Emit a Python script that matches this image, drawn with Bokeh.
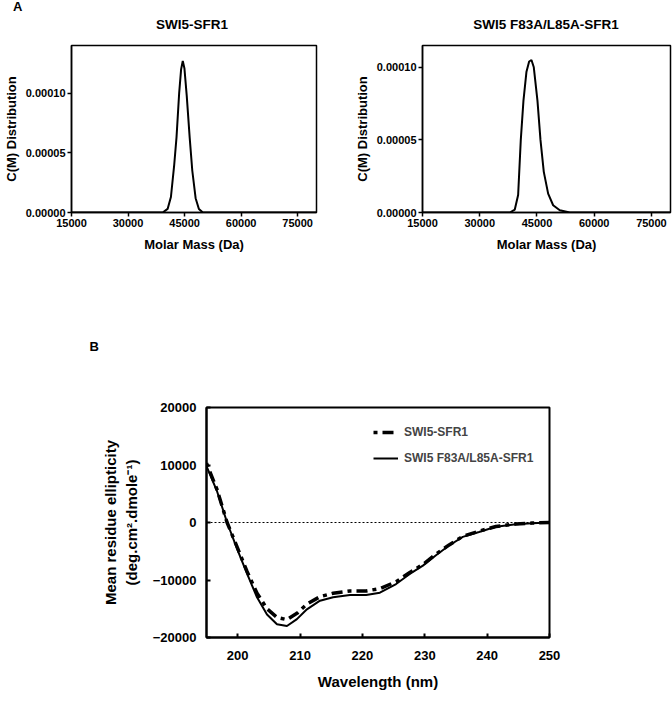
from bokeh.plotting import figure
from bokeh.models import FixedTicker, NumeralTickFormatter, Span, Legend, LegendItem, Div
from bokeh.layouts import column, row
from bokeh.embed import file_html
from bokeh.resources import INLINE

FONT = "Liberation Sans"

# ---------------- Data ----------------
# Panel A: c(M) distributions
mass_wt = [15000, 39190, 40500, 41375, 42250, 42860, 43560, 44080, 44520, 44955,
           45570, 46350, 47050, 47930, 48800, 49850, 80000]
cm_wt = [0, 0, 0.000003, 0.000013, 0.000040, 0.000063, 0.000100, 0.000120, 0.000127,
         0.000121, 0.000098, 0.000063, 0.000035, 0.000012, 0.000003, 0, 0]

mass_mut = [15000, 37880, 39190, 40065, 40760, 41460, 42250, 42950, 43560, 44170,
            45130, 45920, 46790, 47930, 49240, 50980, 53600, 80000]
cm_mut = [0, 0, 0.000002, 0.000012, 0.000050, 0.000077, 0.000097, 0.000104, 0.000105,
          0.000100, 0.000077, 0.000050, 0.000028, 0.000013, 0.000005, 0.0000015, 0, 0]

mass_ticks = [15000, 30000, 45000, 60000, 75000]
cm_ticks = [0, 0.00005, 0.0001]

# Panel B: CD spectra
wavelength = [195, 196.7, 198.3, 200, 201.5, 203.1, 204.7, 206.3, 207.9, 209.5, 211.1,
              213.2, 215.3, 218, 220.6, 222.8, 225.4, 227.6, 229.7, 231.8, 233.9, 236.1,
              238.7, 241.4, 244.6, 247.2, 250]
mre_wt = [10300, 5700, 0, -4500, -8500, -12300, -15000, -16500, -16900, -15800, -14200,
          -12900, -12300, -11900, -11900, -11500, -10300, -8700, -7300, -5500, -3900, -2400,
          -1500, -700, -250, -100, 0]
mre_mut = [9800, 5400, 0, -4850, -8900, -13000, -16000, -17700, -18000, -16800, -15100,
           -13600, -13000, -12600, -12600, -12200, -10700, -8950, -7500, -5700, -4000, -2500,
           -1650, -750, -300, -150, 0]

wl_ticks = [200, 210, 220, 230, 240, 250]
mre_ticks = [-20000, -10000, 0, 10000, 20000]

series_names = ["SWI5-SFR1", "SWI5 F83A/L85A-SFR1"]
panel_letters = ["A", "B"]


def header_div(letter, title, frame_left, frame_width):
    letter_html = ""
    if letter:
        letter_html = (f'<span style="position:absolute;left:13px;top:0px;'
                       f'line-height:14px;font-size:13px;">{letter}</span>')
    html = (f'<div style="position:relative;width:336px;height:37px;'
            f'font-family:\'{FONT}\';font-weight:bold;color:black;">'
            f'{letter_html}'
            f'<span style="position:absolute;left:{frame_left}px;width:{frame_width}px;'
            f'top:17px;line-height:16px;font-size:13.5px;text-align:center;'
            f'white-space:nowrap;">{title}</span></div>')
    return Div(text=html, width=336, height=37, margin=0)


def style_a(p):
    p.grid.visible = False
    p.outline_line_color = "black"
    p.outline_line_width = 1.5
    for ax in (p.xaxis[0], p.yaxis[0]):
        ax.axis_line_width = 1.5
        ax.major_tick_line_width = 1.5
        ax.major_tick_in = 0
        ax.major_tick_out = 4
        ax.minor_tick_line_color = None
        ax.major_label_text_font = FONT
        ax.major_label_text_font_style = "bold"
        ax.major_label_text_font_size = "11px"
        ax.major_label_text_color = "black"
        ax.axis_label_text_font = FONT
        ax.axis_label_text_font_style = "bold"
        ax.axis_label_text_font_size = "13px"
        ax.axis_label_text_color = "black"
        ax.major_label_standoff = 2
    p.xaxis.axis_label = "Molar Mass (Da)"
    p.yaxis.axis_label = "C(M) Distribution"
    p.xaxis.axis_label_standoff = 7
    p.yaxis.axis_label_standoff = 4
    p.xaxis.ticker = FixedTicker(ticks=mass_ticks)
    p.yaxis.ticker = FixedTicker(ticks=cm_ticks)
    p.yaxis.formatter = NumeralTickFormatter(format="0.00000")


pa1 = figure(width=336, height=225, x_range=(15000, 80000), y_range=(0, 0.00014),
             output_backend="svg", toolbar_location=None,
             min_border_left=68, min_border_right=20, min_border_top=8, min_border_bottom=50)
style_a(pa1)
pa1.line(mass_wt, cm_wt, line_color="black", line_width=2)

pa2 = figure(width=336, height=225, x_range=(15000, 80000), y_range=(0, 0.000115),
             output_backend="svg", toolbar_location=None,
             min_border_left=86, min_border_right=2, min_border_top=8, min_border_bottom=50)
style_a(pa2)
pa2.line(mass_mut, cm_mut, line_color="black", line_width=2)

head1 = header_div(panel_letters[0], series_names[0], 68, 248)
head2 = header_div("", series_names[1], 86, 248)

# ---------------- Panel B ----------------
pb = figure(width=600, height=440, x_range=(195, 250), y_range=(-20000, 20000),
            output_backend="svg", toolbar_location=None,
            min_border_left=206, min_border_right=51, min_border_top=145, min_border_bottom=65)
pb.grid.visible = False
pb.outline_line_color = "black"
pb.outline_line_width = 2
for ax in (pb.xaxis[0], pb.yaxis[0]):
    ax.axis_line_width = 2
    ax.major_tick_line_width = 2
    ax.major_tick_in = 4
    ax.major_tick_out = 0
    ax.minor_tick_line_color = None
    ax.major_label_text_font = FONT
    ax.major_label_text_font_style = "bold"
    ax.major_label_text_font_size = "13px"
    ax.major_label_text_color = "black"
    ax.axis_label_text_font = FONT
    ax.axis_label_text_font_style = "bold"
    ax.axis_label_text_font_size = "15px"
    ax.axis_label_text_color = "black"
pb.xaxis.ticker = FixedTicker(ticks=wl_ticks)
pb.yaxis.ticker = FixedTicker(ticks=mre_ticks)
pb.xaxis.major_label_standoff = 13
pb.yaxis.major_label_standoff = 10
pb.xaxis.axis_label = "Wavelength (nm)"
pb.yaxis.axis_label = "Mean residue ellipticity\n(deg.cm\u00b2.dmole\u207b\u00b9)"
pb.xaxis.axis_label_standoff = 10
pb.yaxis.axis_label_standoff = 10

pb.add_layout(Span(location=0, dimension="width", line_color="black",
                   line_width=1, line_dash="2 2"))

r_wt = pb.line(wavelength, mre_wt, line_color="black", line_width=3.5, line_dash="4 5 11 5")
r_mut = pb.line(wavelength, mre_mut, line_color="black", line_width=2)

legend = Legend(items=[LegendItem(label=series_names[0], renderers=[r_wt]),
                       LegendItem(label=series_names[1], renderers=[r_mut])],
                location=(167, 170), border_line_color=None, background_fill_alpha=0,
                padding=0, margin=0, spacing=8, glyph_width=25, glyph_height=18,
                label_height=18, label_standoff=6, label_text_font=FONT,
                label_text_font_style="bold", label_text_font_size="12px")
pb.add_layout(legend)

pb.title.text = panel_letters[1]
pb.title.align = "left"
pb.title.offset = -117
pb.title.standoff = 108
pb.title.text_font = FONT
pb.title.text_font_style = "bold"
pb.title.text_font_size = "13px"
pb.title.text_color = "black"

layout = column(row(head1, head2), row(pa1, pa2), pb)

open("out.html", "w").write(file_html(layout, INLINE))
